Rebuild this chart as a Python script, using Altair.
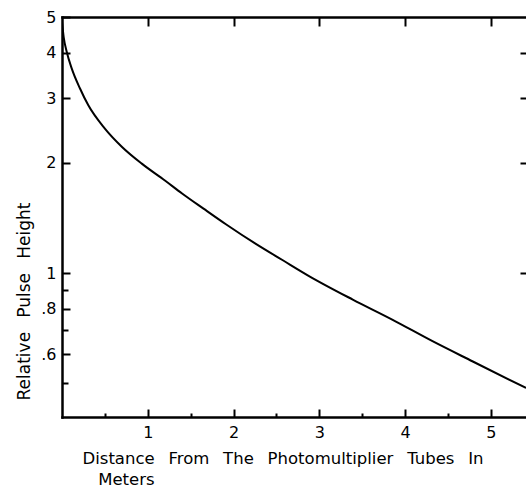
import altair as alt
import pandas as pd

# ---- data ----
distance = [0.0, 0.02, 0.055, 0.113, 0.21, 0.307, 0.50, 0.70, 0.93, 1.20, 1.40,
            1.65, 1.911, 2.26, 2.57, 2.88, 3.39, 3.85, 4.32, 4.79, 5.41]
pulse = [4.85, 4.4, 4.02, 3.62, 3.19, 2.87, 2.48, 2.21, 1.99, 1.79, 1.65,
         1.50, 1.36, 1.202, 1.086, 0.982, 0.847, 0.747, 0.652, 0.574, 0.486]

x_major = [1, 2, 3, 4, 5]
x_major_labels = ["1", "2", "3", "4", "5"]
x_minor = [0.5, 1.5, 2.5, 3.5, 4.5]
y_major = [5, 4, 3, 2, 1, 0.8, 0.6]
y_major_labels = ["5", "4", "3", "2", "1", ".8", ".6"]
y_minor = [0.9, 0.7, 0.5]
y_right = [4, 3, 2, 1]
x_domain = [0, 5.41]
y_domain = [0.405, 5]

GAP = " \u00a0\u2009"
x_title = [GAP.join(["Distance", "From", "The", "Photomultiplier", "Tubes", "In"]),
           "\u200b\u00a0\u00a0\u00a0Meters"]
y_title = GAP.join(["Relative", "Pulse", "Height"])

FONT = "DejaVu Sans"
W, H = 464, 400


def label_expr(values, labels):
    expr = "''"
    for v, l in reversed(list(zip(values, labels))):
        expr = f"abs(datum.value - {v}) < 1e-6 ? '{l}' : ({expr})"
    return expr


df = pd.DataFrame({"d": distance, "p": pulse})
xs = alt.Scale(domain=x_domain, nice=False, zero=False)
ys = alt.Scale(type="log", domain=y_domain, nice=False)
base = alt.Chart(df)


def tick_axis(orient, values, size, offset=0):
    return alt.Axis(orient=orient, values=values, offset=offset, tickSize=size,
                    ticks=True, tickColor="black", tickWidth=2, labels=False,
                    domain=False, grid=False, title=None)


def layer(xaxis, yaxis, visible=False):
    m = base.mark_line(color="black", strokeWidth=2, clip=True,
                       interpolate="monotone",
                       strokeOpacity=1 if visible else 0)
    return m.encode(
        x=alt.X("d:Q", scale=xs, axis=xaxis),
        y=alt.Y("p:Q", scale=ys, axis=yaxis),
    )


x_main = alt.Axis(orient="bottom", values=x_major,
                  labelExpr=label_expr(x_major, x_major_labels),
                  ticks=False, domain=True, domainColor="black", domainWidth=2.5,
                  domainCap="square", grid=False,
                  labelFont=FONT, labelFontSize=16, labelColor="black",
                  labelPadding=7, labelFlush=False,
                  title=x_title, titleFont=FONT, titleFontSize=16.5,
                  titleFontWeight="normal", titleColor="black",
                  titleAlign="left", titleAnchor="start", titleX=20, titleY=46,
                  titleBaseline="alphabetic", titleLineHeight=21)

y_main = alt.Axis(orient="left", values=y_major,
                  labelExpr=label_expr(y_major, y_major_labels),
                  ticks=False, domain=True, domainColor="black", domainWidth=2.5,
                  domainCap="square", grid=False,
                  labelFont=FONT, labelFontSize=16, labelColor="black",
                  labelPadding=6, labelFlush=False,
                  title=y_title, titleFont=FONT, titleFontSize=17,
                  titleFontWeight="normal", titleColor="black",
                  titleAngle=270, titleAlign="center", titleX=-33, titleY=284,
                  titleBaseline="alphabetic")

x_top_line = alt.Axis(orient="top", ticks=False, labels=False, domain=True,
                      domainColor="black", domainWidth=2.5, domainCap="square",
                      grid=False, title=None)

l1 = layer(x_main, y_main, visible=True)
l2 = layer(x_top_line, tick_axis("right", y_major, 8, -W))
l3 = layer(tick_axis("top", x_major, 8, -H), tick_axis("right", y_minor, 6, -W))
l4 = layer(tick_axis("top", x_minor, 4, -H), tick_axis("left", y_right, 6, -W))
l5 = layer(tick_axis("bottom", x_major, 9, -H), None)

chart = (
    alt.layer(l2, l3, l4, l5, l1)
    .resolve_axis(x="independent", y="independent")
    .properties(
        width=W, height=H,
        autosize=alt.AutoSizeParams(type="none"),
        padding={"left": 62, "top": 17, "right": 0, "bottom": 70},
        background="white",
    )
    .configure_view(stroke=None)
)

chart.save("out.html", embed_options={"renderer": "svg", "actions": False})
